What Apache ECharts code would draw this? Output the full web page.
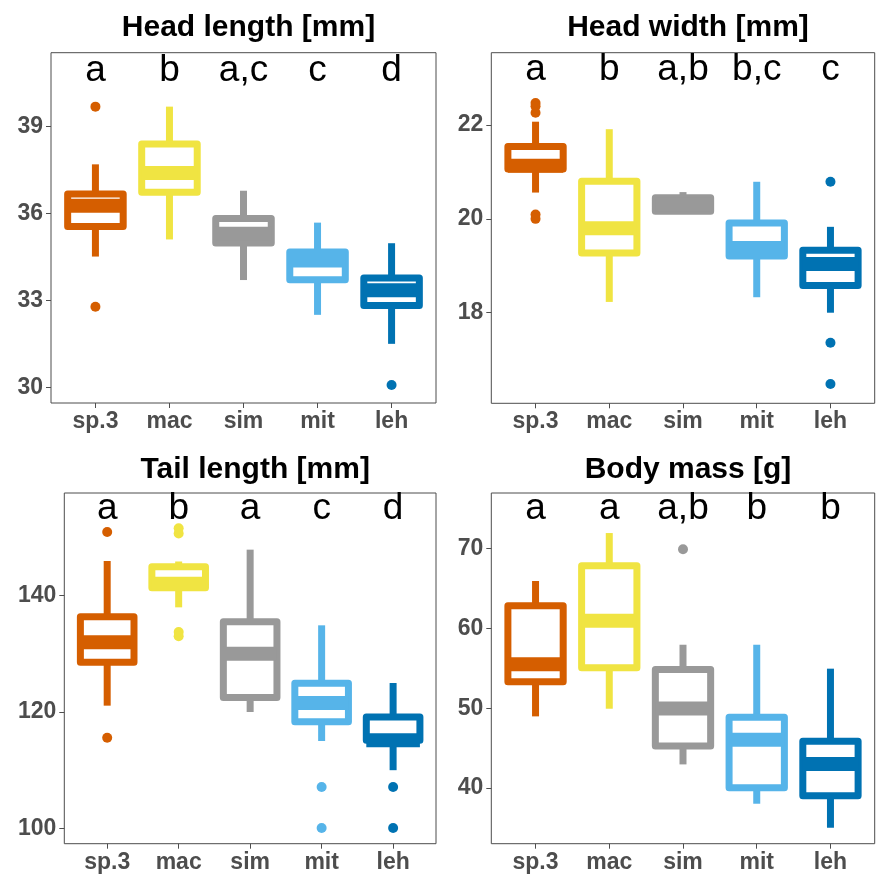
<!DOCTYPE html>
<html>
<head>
<meta charset="utf-8">
<script src="https://cdn.jsdelivr.net/npm/echarts@6/dist/echarts.min.js"></script>
<style>
html,body{margin:0;padding:0;background:#fff;}
#chart{width:877px;height:874px;}
</style>
</head>
<body>
<div id="chart"></div>
<script>
// ---------- data ----------
const categories = ['sp.3', 'mac', 'sim', 'mit', 'leh'];
const colors = ['#D55E00', '#F0E442', '#999999', '#56B4E9', '#0072B2'];
const titles = ['Head length [mm]', 'Head width [mm]', 'Tail length [mm]', 'Body mass [g]'];

// [min whisker, Q1, median, Q3, max whisker] per species
const headLengthStats = [
  [34.52, 35.56, 36.27, 36.68, 37.70],
  [35.11, 36.74, 37.40, 38.40, 39.69],
  [33.71, 34.99, 35.31, 35.83, 36.79],
  [32.51, 33.72, 34.38, 34.68, 35.69],
  [31.51, 32.83, 33.36, 33.78, 34.98]
];
const headLengthOutliers = [[0, 39.69], [0, 32.79], [4, 30.09]];
const headLengthLetters = ['a', 'b', 'a,c', 'c', 'd'];
const headLengthTicks = [30, 33, 36, 39];

const headWidthStats = [
  [20.56, 21.06, 21.13, 21.54, 22.07],
  [18.23, 19.27, 19.80, 20.80, 21.91],
  [20.15, 20.16, 20.31, 20.45, 20.57],
  [18.33, 19.21, 19.38, 19.91, 20.79],
  [18.00, 18.58, 19.04, 19.33, 19.83]
];
const headWidthOutliers = [[0, 22.47], [0, 22.40], [0, 22.26], [0, 20.09], [0, 20.00], [4, 20.79], [4, 17.36], [4, 16.48]];
const headWidthLetters = ['a', 'b', 'a,b', 'b,c', 'c'];
const headWidthTicks = [18, 20, 22];

const tailLengthStats = [
  [121.09, 128.51, 131.94, 136.34, 145.89],
  [137.94, 141.30, 142.00, 144.90, 145.80],
  [120.00, 122.51, 130.00, 135.49, 147.83],
  [115.03, 118.34, 121.54, 124.91, 134.86],
  [110.03, 115.15, 115.15, 119.16, 124.97]
];
const tailLengthOutliers = [[0, 150.86], [0, 115.6], [1, 151.5], [1, 150.6], [1, 133.7], [1, 133.0], [3, 107.14], [3, 100.11], [4, 107.14], [4, 100.11]];
const tailLengthLetters = ['a', 'b', 'a', 'c', 'd'];
const tailLengthTicks = [100, 120, 140];

const bodyMassStats = [
  [48.98, 53.33, 55.50, 62.85, 65.95],
  [49.94, 55.08, 60.97, 67.87, 71.96],
  [42.96, 45.26, 49.98, 54.87, 57.96],
  [38.03, 40.04, 46.06, 48.86, 57.96],
  [35.02, 39.03, 43.00, 45.85, 54.96]
];
const bodyMassOutliers = [[2, 69.92]];
const bodyMassLetters = ['a', 'a', 'a,b', 'b', 'b'];
const bodyMassTicks = [40, 50, 60, 70];

// ---------- layout ----------
const panels = [
  {stats: headLengthStats, outliers: headLengthOutliers, letters: headLengthLetters, ticks: headLengthTicks,
   ymin: 29.47, ymax: 41.55, letterY: 40.93, grid: {left: 51, top: 52.7, width: 385, height: 350.3}, titleTop: 8},
  {stats: headWidthStats, outliers: headWidthOutliers, letters: headWidthLetters, ticks: headWidthTicks,
   ymin: 16.07, ymax: 23.54, letterY: 23.18, grid: {left: 491.3, top: 52.7, width: 383.4, height: 350.6}, titleTop: 8},
  {stats: tailLengthStats, outliers: tailLengthOutliers, letters: tailLengthLetters, ticks: tailLengthTicks,
   ymin: 97.43, ymax: 157.54, letterY: 154.9, grid: {left: 64.3, top: 493, width: 371.7, height: 350.7}, titleTop: 450},
  {stats: bodyMassStats, outliers: bodyMassOutliers, letters: bodyMassLetters, ticks: bodyMassTicks,
   ymin: 33.02, ymax: 76.98, letterY: 75.06, grid: {left: 491.3, top: 493, width: 383.4, height: 350.7}, titleTop: 450}
];

const FONT = '"Liberation Sans", Arial, Helvetica, sans-serif';
const AXIS_GRAY = '#4d4d4d';

const option = {
  animation: false,
  backgroundColor: '#ffffff',
  title: [],
  grid: [],
  xAxis: [],
  yAxis: [],
  series: []
};

function boxRender(params, api) {
  const i = api.value(0);
  const c = colors[i];
  const pMax = api.coord([i, api.value(5)]);
  const pQ3 = api.coord([i, api.value(4)]);
  const pMed = api.coord([i, api.value(3)]);
  const pQ1 = api.coord([i, api.value(2)]);
  const pMin = api.coord([i, api.value(1)]);
  const half = api.size([0.75, 0])[0] / 2;
  const x = pQ1[0];
  return {
    type: 'group',
    children: [
      {type: 'line', shape: {x1: x, y1: pMax[1], x2: x, y2: pQ3[1]}, style: {stroke: c, lineWidth: 7}},
      {type: 'line', shape: {x1: x, y1: pQ1[1], x2: x, y2: pMin[1]}, style: {stroke: c, lineWidth: 7}},
      {type: 'rect', shape: {x: x - half, y: pQ3[1], width: 2 * half, height: pQ1[1] - pQ3[1]},
       style: {fill: '#ffffff', stroke: c, lineWidth: 7, lineJoin: 'round'}},
      {type: 'line', shape: {x1: x - half, y1: pMed[1], x2: x + half, y2: pMed[1]},
       style: {stroke: c, lineWidth: 14, lineCap: 'butt'}}
    ]
  };
}

panels.forEach(function (p, k) {
  const g = p.grid;
  option.grid.push({left: g.left, top: g.top, width: g.width, height: g.height,
    show: true, borderColor: AXIS_GRAY, borderWidth: 1, backgroundColor: '#ffffff', containLabel: false});
  option.title.push({
    text: titles[k], left: g.left + g.width / 2, top: p.titleTop, textAlign: 'center',
    textStyle: {fontFamily: FONT, fontWeight: 'bold', fontSize: 30, color: '#000000'}
  });
  option.xAxis.push({
    type: 'value', gridIndex: k, min: -0.6, max: 4.6, position: 'bottom',
    axisLine: {show: false, onZero: false}, splitLine: {show: false},
    axisTick: {show: true, length: 5, lineStyle: {color: AXIS_GRAY, width: 1}, customValues: [0, 1, 2, 3, 4]},
    axisLabel: {show: true, customValues: [0, 1, 2, 3, 4], formatter: function (v) { return categories[Math.round(v)]; },
      color: AXIS_GRAY, fontFamily: FONT, fontWeight: 'bold', fontSize: 23, margin: 7}
  });
  option.yAxis.push({
    type: 'value', gridIndex: k, min: p.ymin, max: p.ymax, position: 'left',
    axisLine: {show: false, onZero: false}, splitLine: {show: false},
    axisTick: {show: true, length: 5, lineStyle: {color: AXIS_GRAY, width: 1}, customValues: p.ticks},
    axisLabel: {show: true, customValues: p.ticks, color: AXIS_GRAY, fontFamily: FONT, fontWeight: 'bold', fontSize: 23, margin: 8}
  });
  option.series.push({
    type: 'custom', xAxisIndex: k, yAxisIndex: k, silent: true,
    data: p.stats.map(function (s, i) { return [i].concat(s); }),
    encode: {x: 0, y: [1, 2, 3, 4, 5]},
    renderItem: boxRender
  });
  option.series.push({
    type: 'scatter', xAxisIndex: k, yAxisIndex: k, silent: true, symbol: 'circle', symbolSize: 10,
    data: p.outliers.map(function (o) { return {value: o, itemStyle: {color: colors[o[0]], opacity: 1}}; })
  });
  option.series.push({
    type: 'custom', xAxisIndex: k, yAxisIndex: k, silent: true,
    data: p.letters.map(function (l, i) { return [i, p.letterY]; }),
    encode: {x: 0, y: 1},
    renderItem: function (params, api) {
      const pt = api.coord([api.value(0), api.value(1)]);
      return {type: 'text', x: pt[0], y: pt[1],
        style: {text: p.letters[params.dataIndex], fill: '#000000', fontFamily: FONT, fontSize: 37,
          align: 'center', verticalAlign: 'middle'}};
    }
  });
});

const chart = echarts.init(document.getElementById('chart'), null, {renderer: 'canvas'});
chart.setOption(option);
</script>
</body>
</html>
